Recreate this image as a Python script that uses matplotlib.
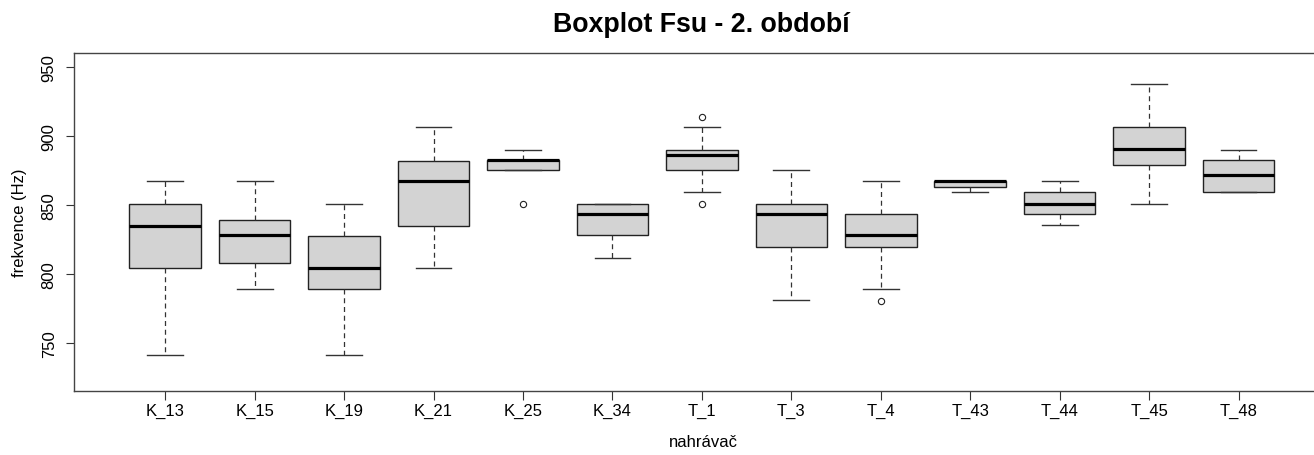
import matplotlib
matplotlib.use("Agg")
import matplotlib.pyplot as plt

plt.rcParams['font.family'] = ['Liberation Sans', 'DejaVu Sans']

# data (Hz)
labels = ["K_13", "K_15", "K_19", "K_21", "K_25", "K_34", "T_1",
          "T_3", "T_4", "T_43", "T_44", "T_45", "T_48"]
whis_lo = [741.8, 789.3, 741.8, 804.2, 875.3, 811.7, 859.2,
           781.1, 789.3, 859.3, 835.3, 850.9, 859.2]
q1 = [804.2, 807.8, 789.3, 835.0, 875.3, 828.1, 875.3,
      819.9, 819.9, 863.2, 843.3, 878.9, 859.2]
med = [835.0, 828.1, 804.4, 867.1, 882.4, 843.3, 885.9,
       843.3, 828.1, 867.0, 850.9, 890.2, 871.5]
q3 = [850.9, 839.2, 827.8, 882.0, 882.8, 850.9, 890.0,
      850.9, 843.3, 867.6, 859.2, 906.4, 882.3]
whis_hi = [867.4, 867.4, 850.9, 906.2, 890.0, 850.9, 906.4,
           875.3, 867.4, 867.6, 867.4, 937.5, 890.0]
outliers = [[], [], [], [], [850.9], [], [913.9, 850.9],
            [], [780.8], [], [], [], []]

stats = []
for i in range(len(labels)):
    stats.append(dict(label=labels[i], whislo=whis_lo[i], q1=q1[i], med=med[i],
                      q3=q3[i], whishi=whis_hi[i], fliers=outliers[i]))

W, H = 1314, 456
fig = plt.figure(figsize=(W / 100, H / 100), dpi=100)
ax = fig.add_axes([74 / W, 1 - 391.7 / H, (1328 - 74) / W, (391.7 - 54.3) / H])

ax.bxp(stats, positions=range(1, 14), widths=0.8, patch_artist=True,
       boxprops=dict(facecolor="#D3D3D3", edgecolor="#222222", linewidth=1.0),
       medianprops=dict(color="black", linewidth=2.3, solid_capstyle="butt"),
       whiskerprops=dict(color="#333333", linewidth=0.9, linestyle=(0, (4, 3))),
       capprops=dict(color="#333333", linewidth=1.0),
       capwidths=0.4,
       flierprops=dict(marker="o", markerfacecolor="none", markeredgecolor="#222222",
                       markersize=4.5, markeredgewidth=0.8))

ax.set_xlim(-0.02, 14.0)
ax.set_ylim(715.7, 959.7)
ax.set_yticks([750, 800, 850, 900, 950])
ax.set_xticks(range(1, 14))
ax.set_xticklabels(labels)
ax.tick_params(axis="x", length=6.5, width=0.8, pad=2.5, labelsize=12, colors="#333333",
               labelcolor="black")
ax.tick_params(axis="y", length=6, width=0.8, pad=6.5, labelsize=12, colors="#333333",
               labelcolor="black")
for lab in ax.get_yticklabels():
    lab.set_rotation(90)
    lab.set_va("center")

for s in ax.spines.values():
    s.set_linewidth(1.0)
    s.set_color("#444444")
ax.spines["right"].set_visible(False)  # frame runs off the right edge in the original

fig.text(701 / W, 1 - 25 / H, "Boxplot Fsu - 2. období", ha="center", va="center",
         fontsize=19.3, fontweight="bold")
fig.text(703 / W, 1 - 443 / H, "nahrávač", ha="center", va="center", fontsize=12)
fig.text(20 / W, 1 - 223 / H, "frekvence (Hz)", ha="center", va="center",
         rotation=90, fontsize=12)

fig.savefig("out.png", dpi=100)
